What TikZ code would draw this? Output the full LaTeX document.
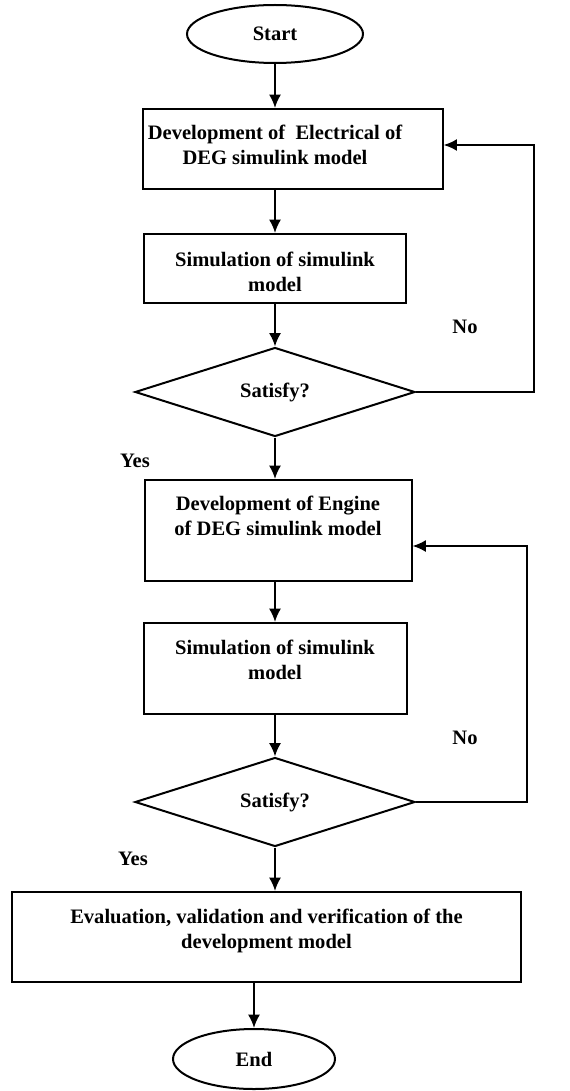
\documentclass[tikz,border=0pt]{standalone}
\usepackage{fontspec}
\setmainfont{Liberation Serif}
\usetikzlibrary{arrows.meta,shapes.geometric,positioning}
\newlength\px
\setlength\px{0.75pt}

\begin{document}
\begin{tikzpicture}[x=0.75pt,y=-0.75pt,
    every node/.style={font=\fontsize{15.4}{18.75}\selectfont\bfseries},
    term/.style={draw,ellipse,line width=1.5pt,inner sep=0pt},
    procbox/.style={draw,rectangle,line width=1.5pt,align=center,inner ysep=0pt,anchor=north},
    decision/.style={draw,diamond,line width=1.5pt,inner sep=0pt,minimum width=280\px,minimum height=89\px},
    flow/.style={line width=1.5pt,-{Latex[length=10pt,width=9pt]}}]
  \fill[white] (0,0) rectangle (569,1091);
  \useasboundingbox (0,0) rectangle (569,1091);

  \node[term,minimum width=176\px,minimum height=58\px] (start) at (275,34) {Start};
  \node[procbox,minimum width=292\px,text height=56\px,text depth=24\px] (dev1) at (293,108)
    {Development of\ \ Electrical of\hspace*{36\px}\\DEG simulink model\hspace*{36\px}};
  \node[procbox,minimum width=262\px,text height=57\px,text depth=12\px] (sim1) at (275,233)
    {Simulation of simulink\\model};
  \node[decision] (sat1) at (275,392) {Satisfy?};
  \node[procbox,minimum width=267\px,text height=55\px,text depth=46\px] (dev2) at (278,479)
    {Development of Engine\\of DEG simulink model};
  \node[procbox,minimum width=263\px,text height=56\px,text depth=35\px] (sim2) at (275,622)
    {Simulation of simulink\\model};
  \node[decision] (sat2) at (275,802) {Satisfy?};
  \node[procbox,minimum width=509\px,text height=56\px,text depth=34\px] (eval) at (266.5,891)
    {Evaluation, validation and verification of the\\development model};
  \node[term,minimum width=162\px,minimum height=60\px] (end) at (254,1059) {End};

  % main flow
  \draw[flow] (start) -- (start |- dev1.north);
  \draw[flow] (sim1 |- dev1.south) -- (sim1);
  \draw[flow] (sim1) -- (sat1);
  \draw[flow] (sat1) -- (sat1 |- dev2.north);
  \draw[flow] (sim2 |- dev2.south) -- (sim2);
  \draw[flow] (sim2) -- (sat2);
  \draw[flow] (sat2) -- (sat2 |- eval.north);
  \draw[flow] (end |- eval.south) -- (end);

  % loops back
  \coordinate (back1) at (534,145);
  \coordinate (back2) at (527,546);
  \draw[flow] (sat1.east) -| (back1) -- (back1 -| dev1.east);
  \draw[flow] (sat2.east) -| (back2) -- (back2 -| dev2.east);

  \node (no1) at (465,327) {No};
  \node (yes1) at (135,461) {Yes};
  \node (no2) at (465,738) {No};
  \node (yes2) at (133,859) {Yes};
\end{tikzpicture}
\end{document}
